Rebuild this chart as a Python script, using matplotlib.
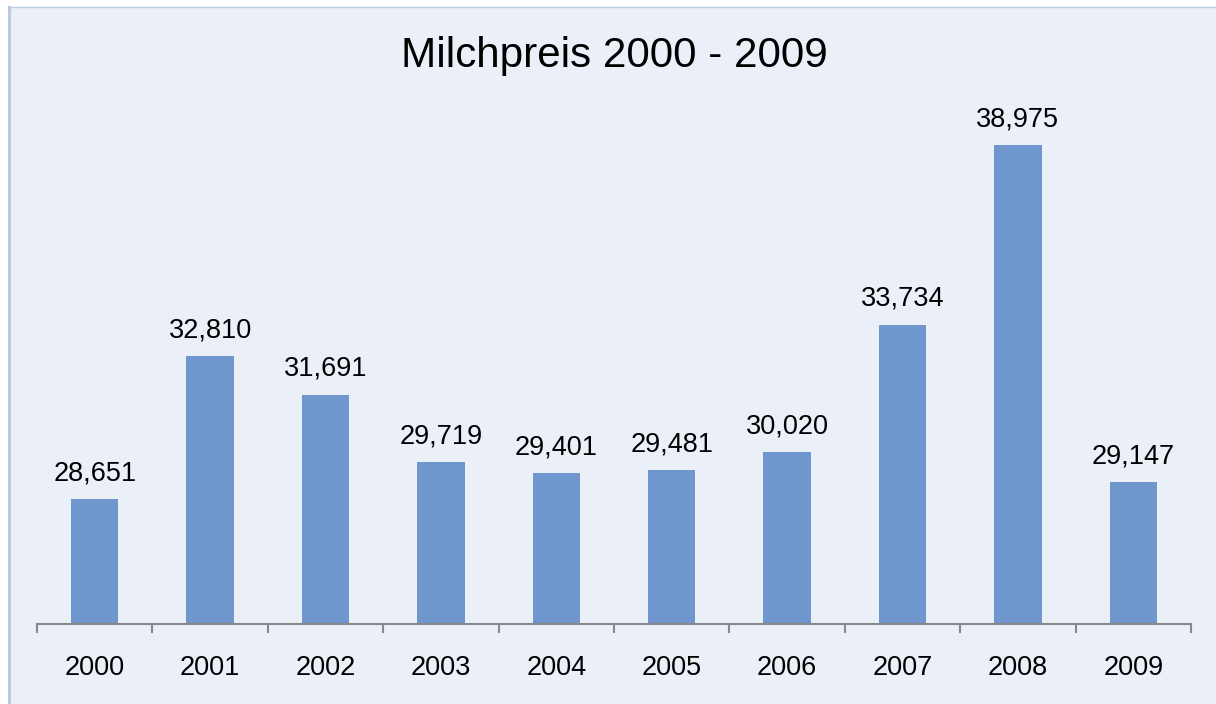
import matplotlib
matplotlib.use("Agg")
import matplotlib.pyplot as plt
from matplotlib.patches import Rectangle
from matplotlib.lines import Line2D

years = ["2000", "2001", "2002", "2003", "2004", "2005", "2006", "2007", "2008", "2009"]
prices = [28.651, 32.810, 31.691, 29.719, 29.401, 29.481, 30.020, 33.734, 38.975, 29.147]
value_labels = ["28,651", "32,810", "31,691", "29,719", "29,401", "29,481", "30,020", "33,734", "38,975", "29,147"]
title = "Milchpreis 2000 - 2009"

W, H = 1216, 704
plt.rcParams['font.family'] = ['Liberation Sans', 'DejaVu Sans']
fig = plt.figure(figsize=(W / 100, H / 100), dpi=100)
fig.patch.set_facecolor("white")

bg = "#EBF0F8"
border = "#B8CBE0"
fig.patches.append(Rectangle((8 / W, 0), 1.0, 1 - 7 / H, transform=fig.transFigure,
                             facecolor=bg, edgecolor="none", zorder=-2))
fig.lines.append(Line2D([8 / W, 1.0], [1 - 7 / H, 1 - 7 / H], transform=fig.transFigure,
                        color=border, lw=1.0, zorder=-1))
fig.lines.append(Line2D([8.5 / W, 8.5 / W], [0, 1 - 7 / H], transform=fig.transFigure,
                        color=border, lw=2.2, zorder=-1))

left, right = 37 / W, 1191 / W
bottom = 1 - 624 / H
top = 1 - 110 / H
ax = fig.add_axes([left, bottom, right - left, top - bottom])
ax.set_zorder(5)
ax.set_facecolor("none")

x = list(range(len(years)))
bars = ax.bar(x, prices, width=0.41, color="#7096CE", zorder=2)
ax.set_ylim(25, 40)
ax.set_xlim(-0.5, len(years) - 0.5)

for xi, v, lab in zip(x, prices, value_labels):
    ax.annotate(lab, (xi, v), xytext=(0, 13.5), textcoords="offset points",
                ha="center", va="baseline", fontsize=19.5, color="black")

for s in ["top", "right", "left"]:
    ax.spines[s].set_visible(False)
ax.spines["bottom"].set_color("#888888")
ax.spines["bottom"].set_linewidth(1.5)
ax.set_yticks([])
ax.set_xticks([i - 0.5 for i in range(len(years) + 1)], minor=False)
ax.set_xticklabels([])
ax.tick_params(axis="x", which="major", length=6.5, width=1.5, color="#888888", direction="out")
ax.set_xticks(x, minor=True)
ax.set_xticklabels(years, minor=True, fontsize=19.5)
ax.tick_params(axis="x", which="minor", length=0, pad=22)

fig.text(614 / W, 1 - 66.7 / H, title, ha="center", va="baseline", fontsize=30.3, color="black")

fig.savefig("out.png", dpi=100, facecolor=fig.get_facecolor())
